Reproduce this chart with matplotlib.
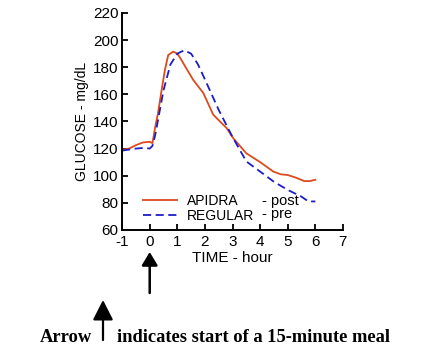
import matplotlib.pyplot as plt

# glucose curves (hours, mg/dL)
apidra_t = [-1.0, -0.75, -0.5, -0.25, 0.0, 0.1, 0.2, 0.3, 0.43, 0.55, 0.67, 0.85, 1.0, 1.1,
            1.3, 1.58, 1.94, 2.3, 2.79, 3.03, 3.5, 4.0, 4.48, 4.75, 5.0, 5.3, 5.6, 5.8, 6.0]
apidra_g = [119, 120, 122.5, 124.5, 125, 124, 136, 146, 163, 178, 189, 191.5, 190, 187,
            180, 170.5, 161, 145, 135, 127.5, 116.5, 110, 103, 101, 100.5, 98.5, 96, 96, 97]

regular_t = [-1.0, -0.5, -0.2, 0.0, 0.1, 0.2, 0.3, 0.4, 0.5, 0.75, 1.0, 1.25, 1.5, 1.75,
             2.0, 2.5, 3.0, 3.5, 4.0, 4.5, 5.0, 5.5, 5.75, 6.0]
regular_g = [118.5, 120, 120.5, 120, 122, 130, 141, 152, 163, 182, 190, 192.5, 190, 182,
             171, 148.5, 128.5, 110.5, 103, 95.5, 89.5, 84.5, 81, 81]

xticks = list(range(-1, 8))
yticks = list(range(60, 221, 20))

plt.rcParams['font.family'] = ['Liberation Sans', 'DejaVu Sans']
plt.rcParams['axes.unicode_minus'] = False

fig = plt.figure(figsize=(4.33, 3.51), dpi=100)
ax = fig.add_axes([0.282, 0.345, 0.510, 0.618])

red = '#dc4a1e'
blue = '#1c1ccc'
l1, = ax.plot(apidra_t, apidra_g, color=red, lw=1.3)
l2, = ax.plot(regular_t, regular_g, color=blue, lw=1.3, dashes=(4.5, 2.5))

ax.set_xlim(-1, 7)
ax.set_ylim(60, 220)
ax.set_xticks(xticks)
ax.set_yticks(yticks)
ax.tick_params(direction='in', length=4.5, width=1.3, labelsize=11)
ax.tick_params(axis='x', pad=3.5)
ax.tick_params(axis='y', pad=2.5)
for s in ['top', 'right']:
    ax.spines[s].set_visible(False)
for s in ['left', 'bottom']:
    ax.spines[s].set_linewidth(1.4)

ax.set_ylabel('GLUCOSE - mg/dL', fontsize=10, labelpad=3)
ax.set_xlabel('TIME - hour', fontsize=11, labelpad=1.5)

leg = ax.legend([l1, l2], ['APIDRA', 'REGULAR'], loc='lower left',
                bbox_to_anchor=(0.08, 0.02), frameon=False, fontsize=10,
                handlelength=2.5, handletextpad=0.7, labelspacing=0.05,
                borderpad=0.2, borderaxespad=0)
ax.text(0.635, 0.135, '- post', transform=ax.transAxes, fontsize=10.5, va='center')
ax.text(0.635, 0.072, '- pre', transform=ax.transAxes, fontsize=10.5, va='center')

# arrows under the axis
fw, fh = 433, 351
ax.annotate('', xy=(0, 1 - 252 / fh), xycoords=('data', 'figure fraction'),
            xytext=(0, 1 - 293 / fh), textcoords=('data', 'figure fraction'),
            arrowprops=dict(arrowstyle='-|>,head_length=0.4,head_width=0.24',
                            mutation_scale=20, lw=1.8, color='black',
                            shrinkA=0, shrinkB=0), annotation_clip=False)
fig.add_artist(plt.matplotlib.patches.FancyArrowPatch(
    (103 / fw, 1 - 340 / fh), (103 / fw, 1 - 300 / fh), transform=fig.transFigure,
    arrowstyle='-|>,head_length=0.61,head_width=0.31', mutation_scale=20,
    lw=1.6, color='black', shrinkA=0, shrinkB=0))

fig.text(40 / fw, 1 - 342 / fh, 'Arrow', family=['Liberation Serif', 'DejaVu Serif'],
         fontweight='bold', fontsize=13.3, va='baseline')
fig.text(117 / fw, 1 - 342 / fh, 'indicates start of a 15-minute meal',
         family=['Liberation Serif', 'DejaVu Serif'], fontweight='bold',
         fontsize=13.3, va='baseline')

fig.savefig('out.png', dpi=100)
